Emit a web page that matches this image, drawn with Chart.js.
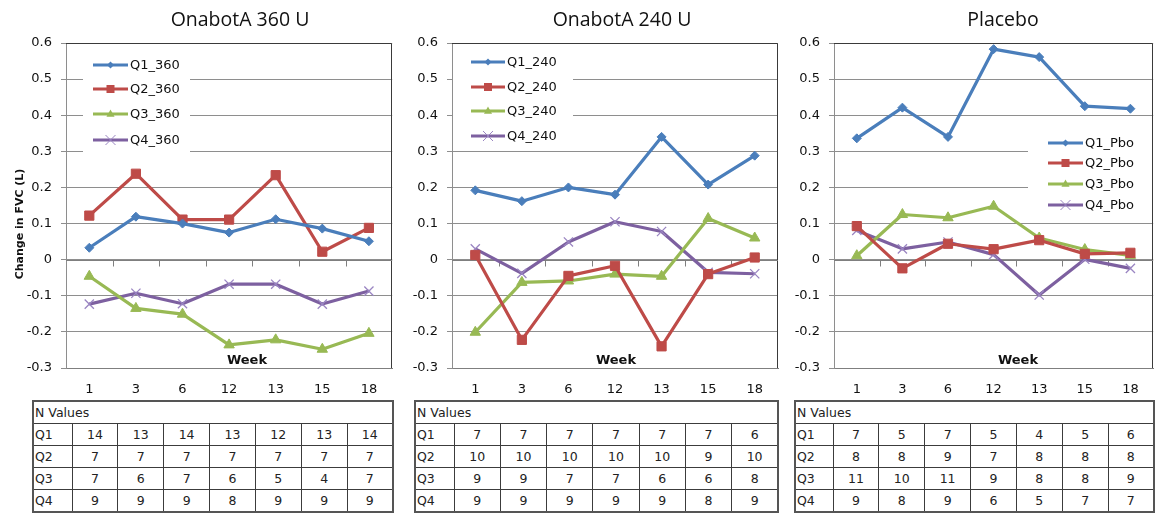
<!DOCTYPE html>
<html>
<head>
<meta charset="utf-8">
<title>Change in FVC by week</title>
<script src="https://cdn.jsdelivr.net/npm/chart.js@4.4.1/dist/chart.umd.min.js"></script>
<style>
  body { margin: 0; background: #fff; width: 1161px; height: 520px; position: relative; overflow: hidden; }
  canvas { position: absolute; top: 0; }
  table.nvals {
    position: absolute; top: 400px; border-collapse: collapse; table-layout: fixed;
    font-family: "DejaVu Sans", sans-serif; font-size: 12.5px; color: #222;
    border: 2px solid #555;
  }
  table.nvals td { border: 1px solid #3c3c3c; height: 21px; padding: 0; text-align: center; white-space: nowrap; overflow: hidden; }
  table.nvals td.lab { text-align: left; padding-left: 1px; }
</style>
</head>
<body>
<canvas id="c360" width="400" height="398" style="left:0px"></canvas>
<canvas id="c240" width="390" height="398" style="left:400px"></canvas>
<canvas id="cPbo" width="371" height="398" style="left:790px"></canvas>

<script>
// weeks on the x axis
const weeks = ["1", "3", "6", "12", "13", "15", "18"];
const quartiles = ["Q1", "Q2", "Q3", "Q4"];

// OnabotA 360 U - change in FVC (L)
const q1_360 = [0.033, 0.119, 0.100, 0.075, 0.112, 0.086, 0.051];
const q2_360 = [0.122, 0.238, 0.111, 0.111, 0.234, 0.022, 0.088];
const q3_360 = [-0.046, -0.135, -0.151, -0.236, -0.222, -0.248, -0.204];
const q4_360 = [-0.123, -0.093, -0.122, -0.068, -0.068, -0.123, -0.087];

// OnabotA 240 U
const q1_240 = [0.192, 0.162, 0.200, 0.180, 0.340, 0.208, 0.288];
const q2_240 = [0.013, -0.222, -0.045, -0.017, -0.240, -0.040, 0.006];
const q3_240 = [-0.201, -0.063, -0.059, -0.040, -0.046, 0.114, 0.060];
const q4_240 = [0.030, -0.038, 0.049, 0.105, 0.078, -0.035, -0.039];

// Placebo
const q1_pbo = [0.336, 0.421, 0.340, 0.583, 0.561, 0.425, 0.418];
const q2_pbo = [0.093, -0.024, 0.044, 0.029, 0.054, 0.016, 0.019];
const q3_pbo = [0.011, 0.125, 0.116, 0.148, 0.060, 0.028, 0.012];
const q4_pbo = [0.081, 0.030, 0.049, 0.014, -0.098, 0.001, -0.024];

// N values per quartile (rows Q1..Q4)
const n360 = [[14, 13, 14, 13, 12, 13, 14], [7, 7, 7, 7, 7, 7, 7], [7, 6, 7, 6, 5, 4, 7], [9, 9, 9, 8, 9, 9, 9]];
const n240 = [[7, 7, 7, 7, 7, 7, 6], [10, 10, 10, 10, 10, 9, 10], [9, 9, 7, 7, 6, 6, 8], [9, 9, 9, 9, 9, 8, 9]];
const nPbo = [[7, 5, 7, 5, 4, 5, 6], [8, 8, 9, 7, 8, 8, 8], [11, 10, 11, 9, 8, 8, 9], [9, 8, 9, 6, 5, 7, 7]];

const seriesColors = ["#4a7ebb", "#be4b48", "#98b954", "#7d60a0"];
const markerStyles = ["rectRot", "rect", "triangle", "crossRot"];
const markerRadius = [4.5, 6.5, 6, 6.5];

// small marker drawer for the legend swatches
function drawMarker(ctx, style, x, y, r, color) {
  ctx.save();
  ctx.fillStyle = color;
  ctx.strokeStyle = color;
  ctx.lineWidth = 1;
  ctx.beginPath();
  if (style === "rectRot") {
    ctx.moveTo(x, y - r); ctx.lineTo(x + r, y); ctx.lineTo(x, y + r); ctx.lineTo(x - r, y); ctx.closePath(); ctx.fill();
  } else if (style === "rect") {
    ctx.fillRect(x - r, y - r, 2 * r, 2 * r);
  } else if (style === "triangle") {
    ctx.moveTo(x, y - r); ctx.lineTo(x + r * 0.9, y + r * 0.6); ctx.lineTo(x - r * 0.9, y + r * 0.6); ctx.closePath(); ctx.fill();
  } else {
    ctx.strokeStyle = "#9a85c2";
    ctx.moveTo(x - r, y - r); ctx.lineTo(x + r, y + r);
    ctx.moveTo(x + r, y - r); ctx.lineTo(x - r, y + r); ctx.stroke();
  }
  ctx.restore();
}

// title, week label, legend box, plot frame and zero-axis ticks drawn Excel style
const excelDecor = {
  id: "excelDecor",
  beforeDatasetsDraw(chart, args, opts) {
    const ctx = chart.ctx;
    const a = chart.chartArea;
    const xs = chart.scales.x;
    const ys = chart.scales.y;
    ctx.save();
    // legend background hides the gridlines
    const lb = opts.legendBox;
    ctx.fillStyle = "#fff";
    ctx.fillRect(lb.x, lb.y, lb.w, lb.h);
    // dark top / right frame
    ctx.strokeStyle = "#3a3a3a";
    ctx.lineWidth = 1;
    ctx.beginPath();
    ctx.moveTo(a.left, Math.round(a.top) + 0.5);
    ctx.lineTo(Math.round(a.right) - 0.5, Math.round(a.top) + 0.5);
    ctx.lineTo(Math.round(a.right) - 0.5, a.bottom);
    ctx.stroke();
    // tick marks on the zero line between the weeks
    const y0 = Math.round(ys.getPixelForValue(0)) + 0.5;
    ctx.strokeStyle = "#7f7f7f";
    ctx.beginPath();
    ctx.moveTo(a.left, y0);
    ctx.lineTo(a.right, y0);
    for (let i = 0; i < weeks.length - 1; i++) {
      const x = Math.round((xs.getPixelForValue(i) + xs.getPixelForValue(i + 1)) / 2) + 0.5;
      ctx.moveTo(x, y0);
      ctx.lineTo(x, y0 + 6);
    }
    ctx.stroke();
    ctx.restore();
  },
  afterDraw(chart, args, opts) {
    const ctx = chart.ctx;
    ctx.save();
    // legend entries
    const lg = opts.legend;
    ctx.font = "13px 'DejaVu Sans'";
    ctx.textBaseline = "middle";
    ctx.textAlign = "left";
    chart.data.datasets.forEach((ds, i) => {
      const y = lg.ys[i];
      ctx.strokeStyle = ds.borderColor;
      ctx.lineWidth = 3;
      ctx.beginPath();
      ctx.moveTo(lg.x0, y);
      ctx.lineTo(lg.x1, y);
      ctx.stroke();
      drawMarker(ctx, markerStyles[i], (lg.x0 + lg.x1) / 2, y, [3.5, 4, 4.5, 5][i], ds.borderColor);
      ctx.fillStyle = "#111";
      ctx.fillText(ds.label, lg.x1 + 2, y + 1);
    });
    // chart title
    ctx.fillStyle = "#111";
    ctx.textAlign = "center";
    ctx.font = "19.5px 'Open Sans'";
    ctx.fillText(opts.title, opts.titleX, 20);
    // week label sits inside the plot
    ctx.font = "bold 13px 'DejaVu Sans'";
    ctx.fillText("Week", opts.weekX, 361);
    if (opts.yTitle) {
      ctx.translate(20, 224);
      ctx.rotate(-Math.PI / 2);
      ctx.font = "bold 11px 'DejaVu Sans'";
      ctx.fillText(opts.yTitle, 0, 0);
    }
    ctx.restore();
  }
};

function makeChart(id, series, cfg) {
  return new Chart(document.getElementById(id), {
    type: "line",
    data: {
      labels: weeks,
      datasets: series.map((s, i) => ({
        label: s.label,
        data: s.data,
        borderColor: seriesColors[i],
        backgroundColor: seriesColors[i],
        borderWidth: 3.2,
        borderJoinStyle: "round",
        pointStyle: markerStyles[i],
        pointRadius: markerRadius[i],
        pointBackgroundColor: seriesColors[i],
        pointBorderColor: i === 3 ? "#9a85c2" : seriesColors[i],
        pointBorderWidth: i === 3 ? 1.3 : 1,
        tension: 0
      }))
    },
    options: {
      responsive: false,
      animation: false,
      layout: { padding: { top: 43, right: cfg.padRight, left: 0, bottom: 0 } },
      plugins: {
        legend: { display: false },
        title: { display: false },
        tooltip: { enabled: false },
        excelDecor: cfg.decor
      },
      scales: {
        x: {
          type: "category",
          offset: true,
          grid: { display: false, drawTicks: false },
          border: { display: true, color: "#7f7f7f" },
          ticks: { color: "#111", font: { family: "DejaVu Sans", size: 13 }, padding: 14 },
          afterFit: (s) => { s.height = 30; }
        },
        y: {
          min: -0.3,
          max: 0.6,
          ticks: {
            stepSize: 0.1,
            padding: 9,
            color: "#111",
            font: { family: "DejaVu Sans", size: 13 },
            callback: (v) => { const r = Math.round(v * 10) / 10; return r === 0 ? "0" : String(r); }
          },
          grid: { color: "#8e8e8e", tickLength: 5 },
          border: { color: "#8e8e8e" },
          afterFit: (s) => { s.width = cfg.axisWidth; }
        }
      }
    },
    plugins: [excelDecor]
  });
}

makeChart("c360", [
  { label: "Q1_360", data: q1_360 },
  { label: "Q2_360", data: q2_360 },
  { label: "Q3_360", data: q3_360 },
  { label: "Q4_360", data: q4_360 }
], {
  axisWidth: 66, padRight: 5,
  decor: {
    title: "OnabotA 360 U", titleX: 240, weekX: 247, yTitle: "Change in FVC (L)",
    legendBox: { x: 83, y: 50, w: 107, h: 105 },
    legend: { x0: 93, x1: 128, ys: [65, 89, 114, 140] }
  }
});

makeChart("c240", [
  { label: "Q1_240", data: q1_240 },
  { label: "Q2_240", data: q2_240 },
  { label: "Q3_240", data: q3_240 },
  { label: "Q4_240", data: q4_240 }
], {
  axisWidth: 52, padRight: 12,
  decor: {
    title: "OnabotA 240 U", titleX: 222, weekX: 216,
    legendBox: { x: 53, y: 48, w: 120, h: 100 },
    legend: { x0: 71, x1: 105, ys: [62, 87, 111, 136] }
  }
});

makeChart("cPbo", [
  { label: "Q1_Pbo", data: q1_pbo },
  { label: "Q2_Pbo", data: q2_pbo },
  { label: "Q3_Pbo", data: q3_pbo },
  { label: "Q4_Pbo", data: q4_pbo }
], {
  axisWidth: 44, padRight: 1,
  decor: {
    title: "Placebo", titleX: 213, weekX: 228,
    legendBox: { x: 238, y: 125, w: 131, h: 96 },
    legend: { x0: 258, x1: 293, ys: [143, 163, 184, 205] }
  }
});

// N value tables under each chart
function buildTable(left, width, firstCol, rows) {
  const t = document.createElement("table");
  t.className = "nvals";
  t.style.left = left + "px";
  t.style.width = width + "px";
  const cg = document.createElement("colgroup");
  const colW = (width - firstCol) / weeks.length;
  [firstCol].concat(weeks.map(() => colW)).forEach((w) => {
    const c = document.createElement("col");
    c.style.width = w + "px";
    cg.appendChild(c);
  });
  t.appendChild(cg);
  const head = t.insertRow();
  const hc = head.insertCell();
  hc.colSpan = weeks.length + 1;
  hc.className = "lab";
  hc.textContent = "N Values";
  rows.forEach((vals, i) => {
    const tr = t.insertRow();
    const lab = tr.insertCell();
    lab.className = "lab";
    lab.textContent = quartiles[i];
    vals.forEach((v) => { tr.insertCell().textContent = v; });
  });
  document.body.appendChild(t);
}

buildTable(32, 360, 39, n360);
buildTable(414, 363, 39, n240);
buildTable(794, 359, 38, nPbo);
</script>
</body>
</html>
